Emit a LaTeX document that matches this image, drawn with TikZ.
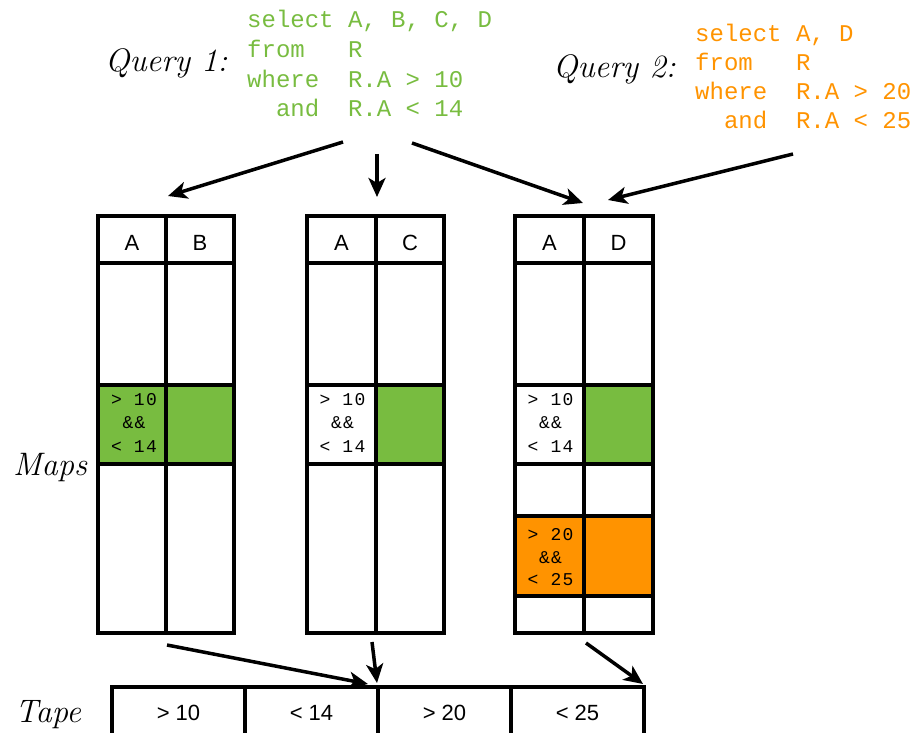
\documentclass[tikz,border=0pt]{standalone}
\usepackage{fontspec}
\setsansfont{Liberation Sans}
\setmonofont{Liberation Mono}
\newfontfamily\condfont{Liberation Mono}[LetterSpace=7]
\usetikzlibrary{arrows.meta}
\definecolor{qgreen}{RGB}{120,188,64}
\definecolor{qorange}{RGB}{255,147,0}
\begin{document}
\begin{tikzpicture}[x=1pt,y=-1pt,
  grid/.style={line width=3.5pt},
  flow/.style={line width=3.5pt,-{Stealth[length=19pt,width=17pt,inset=5pt]}},
  qlabel/.style={anchor=base west,inner sep=0pt,font=\fontsize{32.5}{36}\selectfont\itshape},
  sql/.style={anchor=base west,inner sep=0pt,font=\fontsize{24}{28}\selectfont\ttfamily},
  head/.style={anchor=base,inner sep=0pt,font=\fontsize{22}{26}\selectfont\sffamily},
  cond/.style={anchor=base,inner sep=0pt,font=\fontsize{18}{22}\selectfont\condfont},
  tapetext/.style={anchor=base,inner sep=0pt,font=\fontsize{22}{26}\selectfont\sffamily},
  tapecell/.style={draw,line width=3.5pt,minimum width=133pt,minimum height=60pt,inner sep=0pt}]
\useasboundingbox (0,0) rectangle (914,733);

% ---------- queries ----------
\node[qlabel] (q1) at (105,72) {Query 1:};
\begin{scope}[every node/.style={sql,text=qgreen}]
  \node (q1l1) at (247,28)   {select~A,~B,~C,~D};
  \node (q1l2) at (247,57.7) {from~~~R};
  \node (q1l3) at (247,87.4) {where~~R.A~>~10};
  \node (q1l4) at (247,117)  {~~and~~R.A~<~14};
\end{scope}

\node[qlabel] (q2) at (553,78) {Query 2:};
\begin{scope}[every node/.style={sql,text=qorange}]
  \node (q2l1) at (695,42)  {select~A,~D};
  \node (q2l2) at (695,71)  {from~~~R};
  \node (q2l3) at (695,100) {where~~R.A~>~20};
  \node (q2l4) at (695,129) {~~and~~R.A~<~25};
\end{scope}

% ---------- maps ----------
\node[qlabel] (maps) at (13,475) {Maps};

% map 1: columns A, B
\fill[qgreen] (98,385) rectangle (234,464);
\draw[grid] (98,216) rectangle (234,633);
\draw[grid] (166,216) -- (166,633);
\draw[grid] (98,263) -- (234,263) (98,385) -- (234,385) (98,464) -- (234,464);
\node[head] (m1a) at (132,251) {A};
\node[head] (m1b) at (200,251) {B};
\node[cond] at (134,405) {>~10};
\node[cond] at (134,428.5) {\&\&};
\node[cond] at (134,452) {<~14};

% map 2: columns A, C
\fill[qgreen] (376,385) rectangle (444,464);
\draw[grid] (307,216) rectangle (444,633);
\draw[grid] (376,216) -- (376,633);
\draw[grid] (307,263) -- (444,263) (307,385) -- (444,385) (307,464) -- (444,464);
\node[head] (m2a) at (341.5,251) {A};
\node[head] (m2c) at (410,251) {C};
\node[cond] at (342.5,405) {>~10};
\node[cond] at (342.5,428.5) {\&\&};
\node[cond] at (342.5,452) {<~14};

% map 3: columns A, D
\fill[qgreen] (584,385) rectangle (653,464);
\fill[qorange] (515,516) rectangle (653,596);
\draw[grid] (515,216) rectangle (653,633);
\draw[grid] (584,216) -- (584,633);
\draw[grid] (515,263) -- (653,263) (515,385) -- (653,385) (515,464) -- (653,464)
  (515,516) -- (653,516) (515,596) -- (653,596);
\node[head] (m3a) at (549.5,251) {A};
\node[head] (m3d) at (618.5,251) {D};
\node[cond] at (550.5,405) {>~10};
\node[cond] at (550.5,428.5) {\&\&};
\node[cond] at (550.5,452) {<~14};
\node[cond] at (550.5,540) {>~20};
\node[cond] at (550.5,563) {\&\&};
\node[cond] at (550.5,585.5) {<~25};

% ---------- tape ----------
\node[qlabel] (tape) at (15,722) {Tape};
\node[tapecell] (t1) at (178.5,717) {};
\node[tapecell] (t2) at (311.5,717) {};
\node[tapecell] (t3) at (444.5,717) {};
\node[tapecell] (t4) at (577.5,717) {};
\node[tapetext] at (178.5,720) {>~10};
\node[tapetext] at (311.5,720) {<~14};
\node[tapetext] at (444.5,720) {>~20};
\node[tapetext] at (577.5,720) {<~25};

% ---------- connectors ----------
\coordinate (s1) at (343,142);  \coordinate (e1) at (168,196);
\coordinate (s2) at (377,154);  \coordinate (e2) at (377,197);
\coordinate (s3) at (412,143);  \coordinate (e3) at (583,203);
\coordinate (s4) at (793,154);  \coordinate (e4) at (608,200);
\coordinate (s5) at (167,645);  \coordinate (e5) at (368,684);
\coordinate (s6) at (372,642);  \coordinate (e6) at (377,683);
\coordinate (s7) at (586,643);  \coordinate (e7) at (643,684);
\draw[flow] (s1) -- (e1);
\draw[flow] (s2) -- (e2);
\draw[flow] (s3) -- (e3);
\draw[flow] (s4) -- (e4);
\draw[flow] (s5) -- (e5);
\draw[flow] (s6) -- (e6);
\draw[flow] (s7) -- (e7);
\end{tikzpicture}
\end{document}
